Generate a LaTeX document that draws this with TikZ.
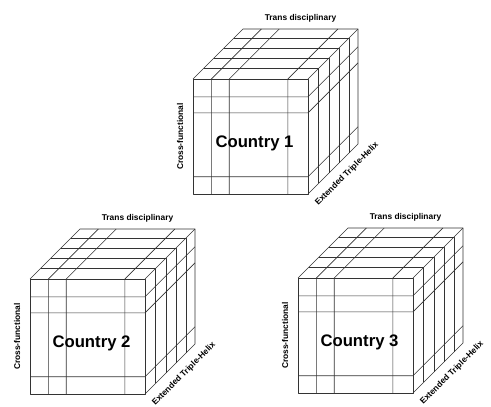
\documentclass[tikz,border=0pt]{standalone}
\usepackage{fontspec}
\setmainfont{Liberation Sans}
\usepackage{tikz}

\begin{document}
\begin{tikzpicture}[x=1pt, y=1pt,
  edge/.style={draw=black!80, line width=0.6pt, line join=round},
  lbl/.style={font=\fontsize{8.4}{10}\selectfont\bfseries, inner sep=0pt},
  cname/.style={font=\fontsize{16.7}{20}\selectfont\bfseries, inner sep=0pt}]
\useasboundingbox (0,0) rectangle (491,407);
\def\cubeS{115}
\def\cubeD{50}
% three cubes: lower left corner of the front face, number
\foreach \cx/\cy/\num in {193/213/1, 30/13/2, 298/14/3}{
\begin{scope}[shift={(\cx,\cy)}]
% outline
\draw[edge] (0,0) rectangle (\cubeS,\cubeS);
\draw[edge] (0,\cubeS) -- ++(\cubeD,\cubeD) -- ++(\cubeS,0) -- ++(0,-\cubeS) -- (\cubeS,0);
\draw[edge] (\cubeS,\cubeS) -- ++(\cubeD,\cubeD);
% front columns run on over the top
\foreach \f in {0.16,0.315,0.825}
  \draw[edge] (\f*\cubeS,0) -- ++(0,\cubeS) -- ++(\cubeD,\cubeD);
% front rows run on over the side
\foreach \f in {0.15,0.705,0.845}
  \draw[edge] (0,\f*\cubeS) -- ++(\cubeS,0) -- ++(\cubeD,\cubeD);
% depth layers on top and side
\foreach \f in {0.21,0.42,0.62,0.82}
  \draw[edge] (\f*\cubeD,\cubeS+\f*\cubeD) -- ++(\cubeS,0) -- ++(0,-\cubeS);
% labels
\node[cname] (country\num) at (0.5*\cubeS+4,0.5*\cubeS-7) {Country \num};
\node[lbl] (trans\num) at (\cubeD+0.5*\cubeS,\cubeS+\cubeD+11) {Trans disciplinary};
\node[lbl, rotate=90] (cross\num) at (-13,0.5*\cubeS) {Cross-functional};
\node[lbl, rotate=45] (helix\num) at (\cubeS+0.5*\cubeD+14,0.5*\cubeD-5) {Extended Triple-Helix};
\end{scope}}
\end{tikzpicture}
\end{document}
